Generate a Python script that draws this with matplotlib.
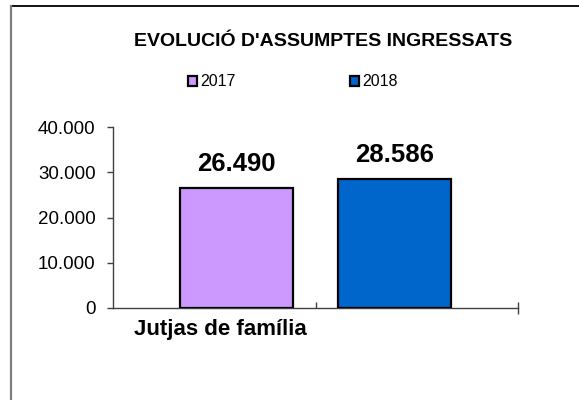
import matplotlib
matplotlib.use("Agg")
import matplotlib.pyplot as plt
from matplotlib.patches import Patch
from matplotlib.lines import Line2D

# ---- data ----
title = "EVOLUCIÓ D'ASSUMPTES INGRESSATS"
category = "Jutjas de família"
series_names = ["2017", "2018"]
series_values = [26490, 28586]
series_colors = ["#CC99FF", "#0066CC"]
yticks = [0, 10000, 20000, 30000, 40000]

plt.rcParams['font.family'] = ['Liberation Sans', 'DejaVu Sans']

W, H = 579, 400
fig = plt.figure(figsize=(W / 100, H / 100), dpi=100)
fig.patch.set_facecolor("white")

def fx(px):
    return px / W

def fy(py):
    return 1 - py / H

# frame lines (top and left only)
fig.add_artist(Line2D([fx(11), fx(579)], [fy(6), fy(6)], color="black", lw=1.3))
fig.add_artist(Line2D([fx(11), fx(11)], [fy(6), fy(400)], color="#7f7f7f", lw=1.6))

ax = fig.add_axes([fx(113), fy(308), fx(518) - fx(113), fy(127) - fy(308)])
ax.set_xlim(0, 2)
ax.set_ylim(0, 40000)

# bars: group center 1.0, offsets
width = 0.556
offsets = [-0.389, 0.389]
for name, val, col, off in zip(series_names, series_values, series_colors, offsets):
    x = 1.0 + off
    ax.bar(x, val, width=width, color=col, edgecolor="black", linewidth=1.6, zorder=3)
    lab = f"{val:,.0f}".replace(",", ".")
    ax.annotate(lab, (x, val), xytext=(0, 12), textcoords="offset points",
                ha="center", va="baseline", fontsize=18.5, fontweight="bold")

for s in ["top", "right"]:
    ax.spines[s].set_visible(False)
for s in ["left", "bottom"]:
    ax.spines[s].set_color("#404040")
    ax.spines[s].set_linewidth(1.0)

ax.set_yticks(yticks)
ax.set_yticklabels([f"{v:,.0f}".replace(",", ".") for v in yticks])
ax.tick_params(axis="y", direction="out", length=4.5, width=1.0, color="#404040",
               labelsize=13.5, pad=8)
ax.set_xticks([2])
ax.set_xticklabels([""])
ax.set_xticks([1], minor=True)
ax.tick_params(axis="x", which="major", direction="inout", length=9, width=1.0, color="#404040")
ax.tick_params(axis="x", which="minor", direction="in", length=4, width=1.0, color="#404040")

# category label
fig.text(fx(220), fy(335), category, ha="center", va="baseline",
         fontsize=16, fontweight="bold")

# title
fig.text(fx(323), fy(46), title, ha="center", va="baseline",
         fontsize=14, fontweight="bold")

# legend
handles = [Patch(facecolor=c, edgecolor="black", linewidth=1.6) for c in series_colors]
fig.legend(handles, series_names, loc="center", bbox_to_anchor=(fx(293), fy(82)),
           ncol=2, frameon=False, fontsize=11.5, handlelength=0.55, handleheight=0.55,
           handletextpad=0.2, columnspacing=7.2, borderpad=0, borderaxespad=0)

fig.savefig("out.png", dpi=100, facecolor="white")
